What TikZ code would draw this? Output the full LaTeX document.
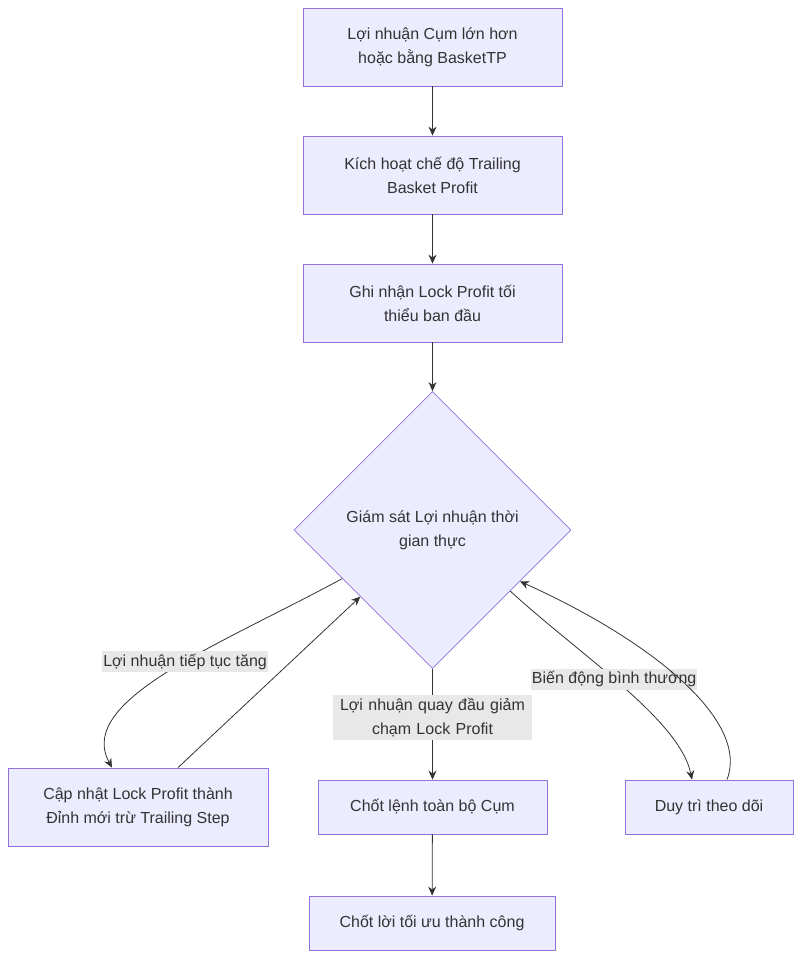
\documentclass[tikz,border=0pt]{standalone}
\usepackage{fontspec}
\setmainfont{Liberation Sans}
\usetikzlibrary{calc,shapes.geometric,arrows.meta}
\definecolor{nodefill}{RGB}{236,236,255}
\definecolor{nodeline}{RGB}{147,112,219}
\definecolor{inkgray}{RGB}{51,51,51}
\definecolor{labelgray}{RGB}{232,232,232}

\begin{document}
\begin{tikzpicture}[x=1pt, y=1pt, font=\fontsize{16pt}{24pt}\selectfont, text=inkgray,
    box/.style={draw=nodeline, fill=nodefill, line width=0.8pt, align=center, inner sep=0pt},
    edgelbl/.style={fill=labelgray, inner xsep=1pt, inner ysep=3pt, align=center},
    flow/.style={->, >={Stealth[length=9pt,width=8pt]}, draw=inkgray, line width=0.8pt}]
    \useasboundingbox (0,0) rectangle (802,-958);

    \node[box, minimum width=259pt, minimum height=78pt] (reach) at (432.5,-47) {Lợi nhuận Cụm lớn hơn\\hoặc bằng BasketTP};
    \node[box, minimum width=259pt, minimum height=78pt] (trail) at (432.5,-175) {Kích hoạt chế độ Trailing\\Basket Profit};
    \node[box, minimum width=259pt, minimum height=78pt] (lock) at (432.5,-303) {Ghi nhận Lock Profit tối\\thiểu ban đầu};
    \node[box, shape=diamond, aspect=1, minimum width=277pt, minimum height=277pt] (watch) at (432.5,-530) {Giám sát Lợi nhuận thời\\gian thực};
    \node[box, minimum width=260pt, minimum height=78pt] (raise) at (138,-807) {Cập nhật Lock Profit thành\\Đỉnh mới trừ Trailing Step};
    \node[box, minimum width=229pt, minimum height=54pt] (close) at (432.5,-807) {Chốt lệnh toàn bộ Cụm};
    \node[box, minimum width=168pt, minimum height=54pt] (keep) at (709,-807) {Duy trì theo dõi};
    \node[box, minimum width=246pt, minimum height=54pt] (done) at (432,-923) {Chốt lời tối ưu thành công};

    \coordinate (upL) at ($(watch.west)!0.35!(watch.south)$);
    \coordinate (inL) at ($(watch.west)!0.48!(watch.south)$);
    \coordinate (upR) at ($(watch.east)!0.44!(watch.south)$);
    \coordinate (inR) at ($(watch.east)!0.37!(watch.south)$);
    \coordinate (raiseIn) at ($(raise.north)+(-26,0)$);
    \coordinate (raiseOut) at ($(raise.north)+(40,0)$);
    \coordinate (keepIn) at ($(keep.north)+(-17,0)$);
    \coordinate (keepOut) at ($(keep.north)+(18,0)$);

    \draw[flow] (reach) -- (trail);
    \draw[flow] (trail) -- (lock);
    \draw[flow] (lock) -- (watch);
    \draw[flow] (upL) .. controls (220,-645) and (75,-700) .. (raiseIn)
        node[edgelbl, pos=0.44] {Lợi nhuận tiếp tục tăng};
    \draw[flow] (raiseOut) -- (inL);
    \draw[flow] (watch) -- (close)
        node[edgelbl, pos=0.44, text width=197pt] {Lợi nhuận quay đầu giảm\\chạm Lock Profit};
    \draw[flow] (upR) .. controls (580,-655) and (680,-720) .. (keepIn)
        node[edgelbl, pos=0.46] {Biến động bình thường};
    \draw[flow] (keepOut) .. controls (750,-720) and (650,-640) .. (inR);
    \draw[flow] (close) -- (done);
\end{tikzpicture}
\end{document}
